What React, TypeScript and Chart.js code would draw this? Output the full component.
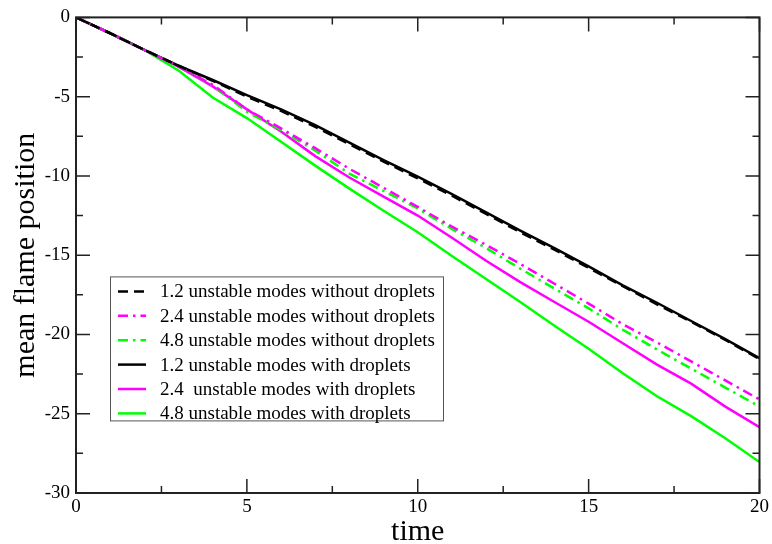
import React, { useEffect, useRef } from "react";
import { Chart, registerables } from "chart.js";

Chart.register(...registerables);

// ---- data ----
const times = [0, 1, 2, 3, 4, 5, 6, 7, 8, 9, 10, 11, 12, 13, 14, 15, 16, 17, 18, 19, 20];
const noDrop12 = [0, -1.0, -2.05, -3.05, -4.0, -5.0, -5.9, -6.9, -8.0, -9.1, -10.15, -11.25, -12.4, -13.55, -14.65, -15.8, -16.95, -18.1, -19.2, -20.35, -21.55];
const noDrop24 = [0, -1.0, -2.05, -3.1, -4.25, -5.8, -7.0, -8.25, -9.55, -10.75, -11.95, -13.2, -14.35, -15.55, -16.8, -18.05, -19.35, -20.5, -21.7, -22.9, -24.1];
const noDrop48 = [0, -1.0, -2.05, -3.1, -4.3, -5.95, -7.1, -8.4, -9.85, -10.95, -12.05, -13.35, -14.55, -15.85, -17.1, -18.35, -19.7, -20.95, -22.15, -23.35, -24.55];
const drop12 = [0, -1.0, -2.05, -3.05, -3.95, -4.9, -5.8, -6.8, -7.9, -9.0, -10.05, -11.15, -12.3, -13.45, -14.55, -15.7, -16.9, -18.0, -19.15, -20.3, -21.5];
const drop24 = [0, -1.0, -2.05, -3.1, -4.35, -5.8, -7.2, -8.75, -10.1, -11.3, -12.5, -13.9, -15.35, -16.7, -17.95, -19.2, -20.55, -21.9, -23.1, -24.55, -25.85];
const drop48 = [0, -1.0, -2.05, -3.35, -5.05, -6.35, -7.85, -9.35, -10.8, -12.2, -13.55, -15.05, -16.5, -17.95, -19.45, -20.9, -22.45, -23.9, -25.15, -26.55, -28.05];

const seriesLabels = [
  "1.2 unstable modes without droplets",
  "2.4 unstable modes without droplets",
  "4.8 unstable modes without droplets",
  "1.2 unstable modes with droplets",
  "2.4  unstable modes with droplets",
  "4.8 unstable modes with droplets",
];

const xTicks = [0, 5, 10, 15, 20];
const yTicks = [0, -5, -10, -15, -20, -25, -30];
const xMinorStep = 2.5;
const yMinorStep = 2.5;

const FONT = "'Liberation Serif', 'Times New Roman', serif";

const framePlugin = {
  id: "frameAndLegend",
  afterDraw(chart: any) {
    const { ctx, chartArea: a, scales } = chart;
    const xs = scales.x;
    const ys = scales.y;
    ctx.save();
    // frame
    ctx.strokeStyle = "#222";
    ctx.lineWidth = 2;
    ctx.strokeRect(a.left, a.top, a.right - a.left, a.bottom - a.top);
    // inward ticks on all sides
    ctx.lineWidth = 1.5;
    ctx.beginPath();
    const xMin = xTicks[0];
    const xMax = xTicks[xTicks.length - 1];
    for (let v = xMin; v <= xMax + 1e-9; v += xMinorStep) {
      const major = xTicks.some((t) => Math.abs(t - v) < 1e-9);
      const len = major ? 14 : 7;
      const px = xs.getPixelForValue(v);
      ctx.moveTo(px, a.bottom);
      ctx.lineTo(px, a.bottom - len);
      ctx.moveTo(px, a.top);
      ctx.lineTo(px, a.top + len);
    }
    const yMin = Math.min(...yTicks);
    const yMax = Math.max(...yTicks);
    for (let v = yMin; v <= yMax + 1e-9; v += yMinorStep) {
      const major = yTicks.some((t) => Math.abs(t - v) < 1e-9);
      const len = major ? 14 : 7;
      const py = ys.getPixelForValue(v);
      ctx.moveTo(a.left, py);
      ctx.lineTo(a.left + len, py);
      ctx.moveTo(a.right, py);
      ctx.lineTo(a.right - len, py);
    }
    ctx.stroke();

    // legend box
    const bx = a.left + 34;
    const by = a.top + 259;
    const bw = 333;
    const rowH = 24.4;
    const bh = 144;
    ctx.fillStyle = "#fff";
    ctx.fillRect(bx, by, bw, bh);
    ctx.strokeStyle = "#555";
    ctx.lineWidth = 1;
    ctx.strokeRect(bx + 0.5, by + 0.5, bw, bh);
    ctx.font = `19px ${FONT}`;
    ctx.textBaseline = "middle";
    ctx.textAlign = "left";
    chart.data.datasets.forEach((ds: any, i: number) => {
      const cy = by + 15 + i * rowH;
      ctx.save();
      ctx.strokeStyle = ds.borderColor;
      ctx.lineWidth = ds.borderWidth;
      ctx.setLineDash(ds.borderDash || []);
      ctx.beginPath();
      ctx.moveTo(bx + 8, cy);
      ctx.lineTo(bx + 36, cy);
      ctx.stroke();
      ctx.restore();
      ctx.fillStyle = "#000";
      ctx.fillText(ds.label, bx + 50, cy + 1);
    });
    ctx.restore();
  },
};

export default function App() {
  const ref = useRef<HTMLCanvasElement>(null);
  useEffect(() => {
    document.body.style.margin = "0";
    const canvas = ref.current!;
    const toPts = (arr: number[]) => times.map((t, i) => ({ x: t, y: arr[i] }));
    const dashDot = [10, 5, 2.5, 5];
    const chart = new Chart(canvas, {
      type: "line",
      data: {
        datasets: [
          { label: seriesLabels[0], data: toPts(noDrop12), borderColor: "#000000", borderWidth: 2.5, borderDash: [10, 6] },
          { label: seriesLabels[1], data: toPts(noDrop24), borderColor: "#ff00ff", borderWidth: 2.5, borderDash: dashDot },
          { label: seriesLabels[2], data: toPts(noDrop48), borderColor: "#00ff00", borderWidth: 2.5, borderDash: dashDot },
          { label: seriesLabels[3], data: toPts(drop12), borderColor: "#000000", borderWidth: 2.5 },
          { label: seriesLabels[4], data: toPts(drop24), borderColor: "#ff00ff", borderWidth: 2.5 },
          { label: seriesLabels[5], data: toPts(drop48), borderColor: "#00ff00", borderWidth: 2.5 },
        ].map((d) => ({ ...d, pointRadius: 0, fill: false, tension: 0, borderCapStyle: "butt" as const })),
      },
      options: {
        animation: false,
        responsive: false,
        layout: { padding: { top: 14, right: 11, left: 0, bottom: 0 } },
        plugins: { legend: { display: false }, tooltip: { enabled: false } },
        scales: {
          x: {
            type: "linear",
            min: 0,
            max: 20,
            grid: { display: false, drawTicks: false, tickLength: 0 },
            border: { display: false },
            afterBuildTicks: (s: any) => {
              s.ticks = xTicks.map((v) => ({ value: v }));
            },
            afterFit: (s: any) => {
              s.height = 51;
            },
            ticks: { color: "#000", font: { family: FONT, size: 19 }, padding: 3, maxRotation: 0 },
            title: { display: true, text: "time", color: "#000", font: { family: FONT, size: 30 }, padding: { top: 0, bottom: -6 } },
          },
          y: {
            type: "linear",
            min: -30,
            max: 0,
            grid: { display: false, drawTicks: false, tickLength: 0 },
            border: { display: false },
            afterBuildTicks: (s: any) => {
              s.ticks = yTicks.map((v) => ({ value: v }));
            },
            afterFit: (s: any) => {
              s.width = 76;
            },
            ticks: { color: "#000", font: { family: FONT, size: 19 }, padding: 6 },
            title: { display: true, text: "mean flame position", color: "#000", font: { family: FONT, size: 30 }, padding: { top: 8, bottom: 0 } },
          },
        },
      },
      plugins: [framePlugin],
    });
    return () => chart.destroy();
  }, []);
  return <canvas ref={ref} width={772} height={544} style={{ display: "block" }} />;
}
